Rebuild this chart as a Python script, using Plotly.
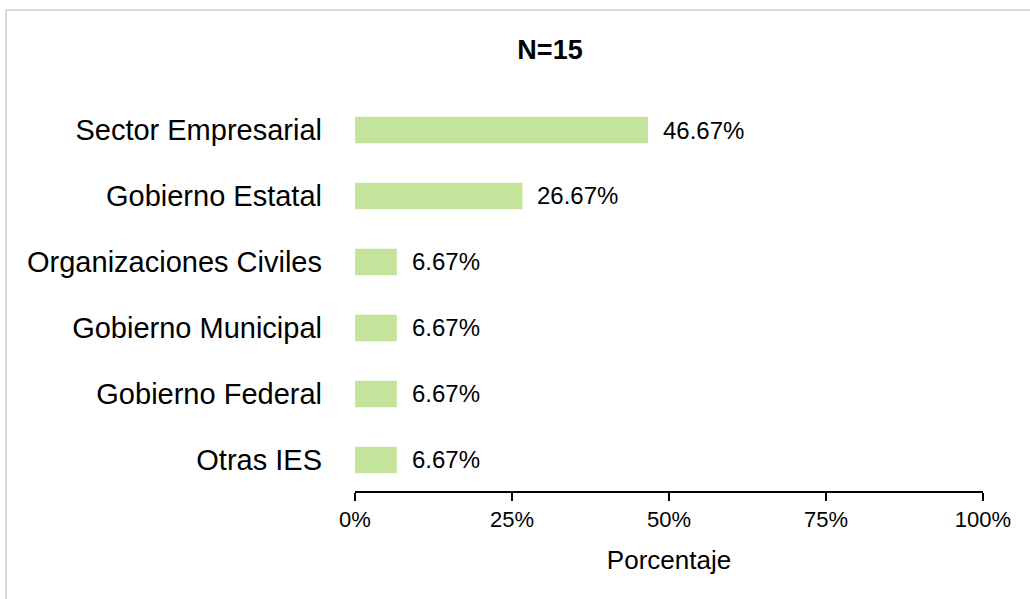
import plotly.graph_objects as go

# Data (bottom to top as drawn)
categories = ["Otras IES", "Gobierno Federal", "Gobierno Municipal",
              "Organizaciones Civiles", "Gobierno Estatal", "Sector Empresarial"]
percentages = [6.67, 6.67, 6.67, 6.67, 26.67, 46.67]
tick_values = [0, 25, 50, 75, 100]
tick_labels = ["0%", "25%", "50%", "75%", "100%"]

FONT = "Liberation Sans, Arial, sans-serif"
BAR_COLOR = "#c5e49b"

fig = go.Figure()

fig.add_trace(go.Bar(
    x=percentages, y=categories, orientation="h",
    marker=dict(color=BAR_COLOR, line=dict(width=0)),
    width=0.4, hoverinfo="x+y",
))

# Value labels to the right of each bar
for cat, val in zip(categories, percentages):
    fig.add_annotation(x=val, y=cat, text=f"{val:.2f}%", showarrow=False,
                       xanchor="left", yanchor="middle", xshift=13,
                       font=dict(family=FONT, size=24, color="black"))

fig.update_layout(
    width=1030, height=599,
    margin=dict(l=355, r=47, t=97, b=108),
    paper_bgcolor="white", plot_bgcolor="white",
    showlegend=False,
    font=dict(family=FONT, color="black"),
    title=dict(text="<b>N=15</b>", x=0.534, xref="container", xanchor="center",
               y=1 - 50 / 599, yref="container", yanchor="middle",
               font=dict(family=FONT, size=27, color="black")),
    bargap=0.6,
)

fig.update_xaxes(
    range=[0, 100], tickvals=tick_values, ticktext=tick_labels,
    showgrid=False, zeroline=False, showline=True, linecolor="black", linewidth=2,
    ticks="outside", ticklen=8, tickwidth=2, tickcolor="black",
    tickfont=dict(family=FONT, size=22, color="black"),
    title=dict(text="Porcentaje", standoff=19,
               font=dict(family=FONT, size=26, color="black")),
    fixedrange=True,
)

fig.update_yaxes(
    categoryorder="array", categoryarray=categories,
    range=[-0.47, 5.5],
    showgrid=False, zeroline=False, showline=False, ticks="",
    ticklabelstandoff=32,
    tickfont=dict(family=FONT, size=29, color="black"),
    fixedrange=True,
)

# Light gray frame (top and left edges visible)
px = lambda v: (v - 355) / 628
py = lambda v: (491 - v) / 394
frame = dict(type="line", xref="paper", yref="paper",
             line=dict(color="#d9d9d9", width=2), layer="below")
fig.add_shape(x0=px(6), x1=px(6), y0=py(10), y1=py(600), **frame)
fig.add_shape(x0=px(6), x1=px(1031), y0=py(10), y1=py(10), **frame)

fig.write_html("out.html", config={"displayModeBar": False},
               post_script="document.body.style.margin='0';")
